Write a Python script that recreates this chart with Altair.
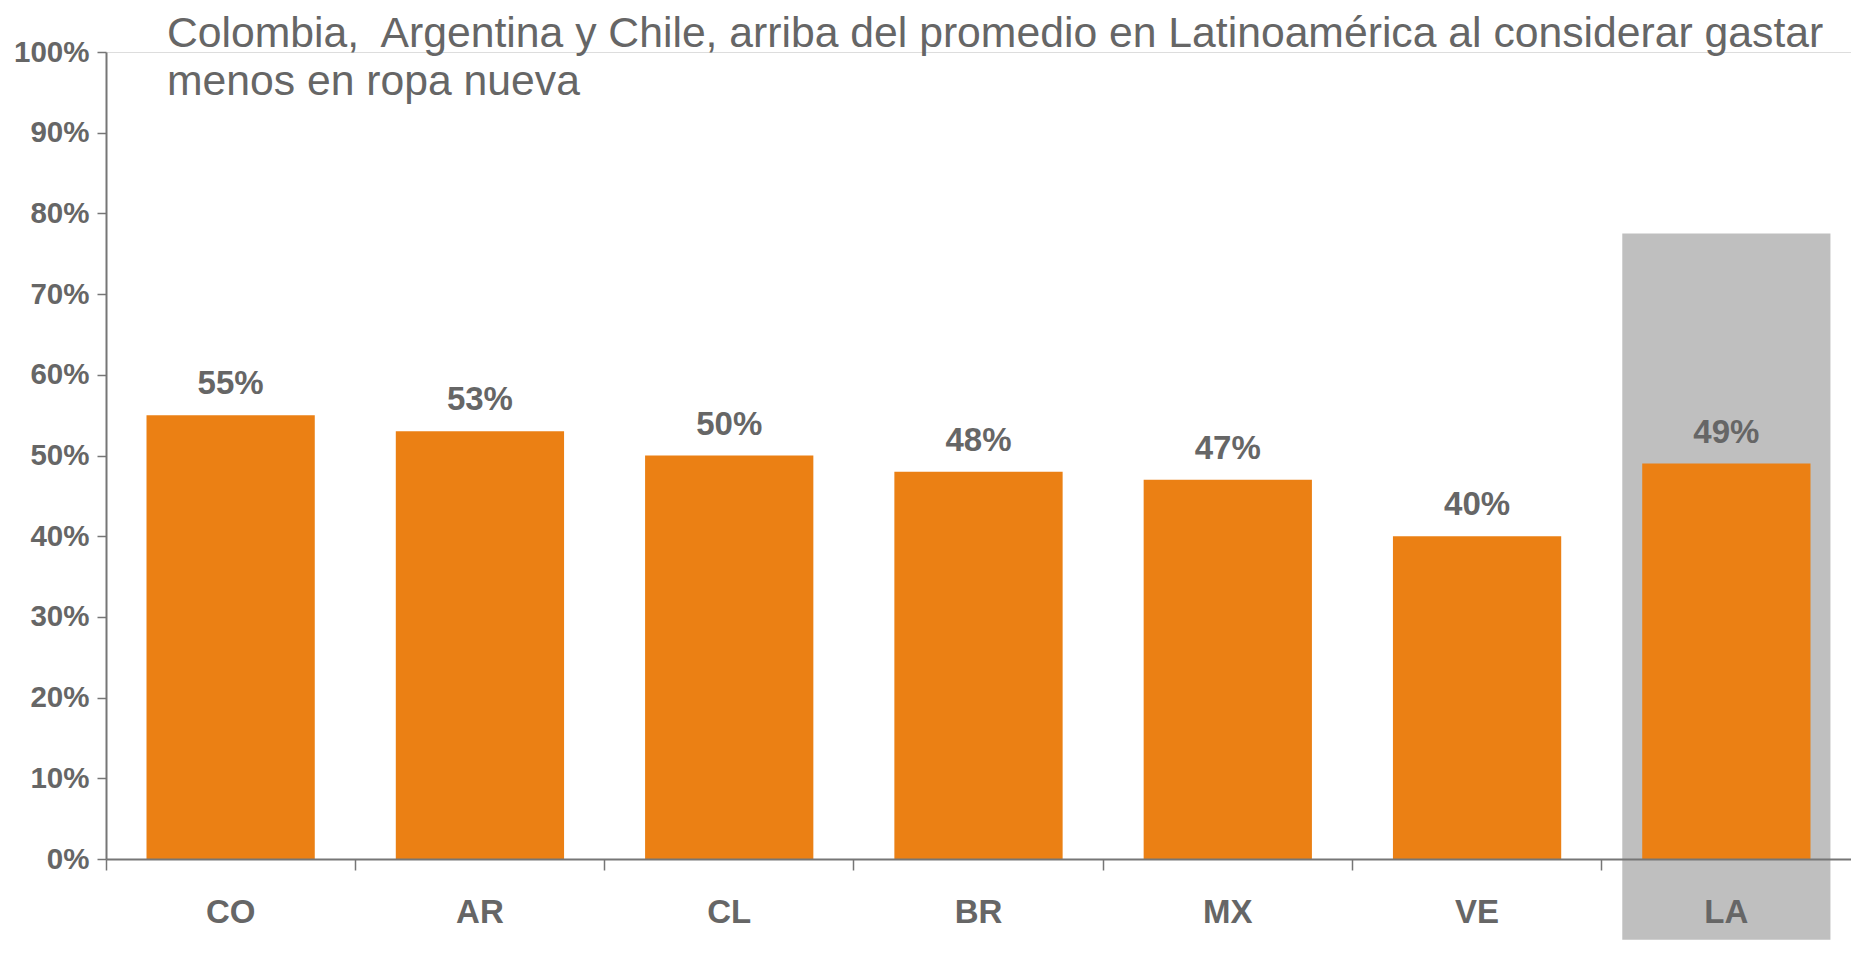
import altair as alt
import pandas as pd

# ---- data ----
countries = ["CO", "AR", "CL", "BR", "MX", "VE", "LA"]
shares = [0.55, 0.53, 0.50, 0.48, 0.47, 0.40, 0.49]
highlight_country = ["LA"]
highlight_top = [0.775]
highlight_bottom = [-0.1]
y_tick_values = [0.0, 0.1, 0.2, 0.3, 0.4, 0.5, 0.6, 0.7, 0.8, 0.9, 1.0]
title_lines = [
    "Colombia,\u00a0 Argentina y Chile, arriba del promedio en Latinoamérica al considerar gastar",
    "menos en ropa nueva",
]

df = pd.DataFrame({"pais": countries, "valor": shares})
hl = pd.DataFrame({"pais": highlight_country, "top": highlight_top, "bottom": highlight_bottom})
title_df = pd.DataFrame({"titulo": ["\n".join(title_lines)]})

FONT = "Liberation Sans"
GREY_TXT = "#666666"
AXIS_GREY = "#767676"
ORANGE = "#EB8014"
HL_GREY = "#BFBFBF"

W, H = 1745, 807
PAD = {"left": 98, "top": 44, "right": 0, "bottom": 81}

x_axis = alt.Axis(
    title=None,
    labelAngle=0,
    bandPosition=0,
    labelFont=FONT,
    labelFontSize=33,
    labelFontWeight="bold",
    labelColor=GREY_TXT,
    labelPadding=26,
    tickSize=11,
    tickColor=AXIS_GREY,
    tickWidth=1.5,
    domainColor=AXIS_GREY,
    domainWidth=2,
    grid=False,
    zindex=1,
)
y_axis = alt.Axis(
    title=None,
    values=y_tick_values,
    format=".0%",
    labelFont=FONT,
    labelFontSize=29.5,
    labelFontWeight="bold",
    labelColor=GREY_TXT,
    labelPadding=8,
    tickSize=9,
    tickColor=AXIS_GREY,
    tickWidth=1.5,
    domainColor=AXIS_GREY,
    domainWidth=2,
    grid=False,
    zindex=1,
)

x_scale = alt.Scale(type="band", domain=countries, paddingInner=0, paddingOuter=0)
y_scale = alt.Scale(domain=[0, 1], nice=False, zero=True)

x_enc = alt.X("pais:N", sort=countries, scale=x_scale, axis=x_axis)

highlight = alt.Chart(hl).mark_bar(
    color=HL_GREY, width=alt.RelativeBandSize(0.835)
).encode(
    x=x_enc,
    y=alt.Y("top:Q", scale=y_scale, axis=y_axis),
    y2=alt.Y2("bottom:Q"),
)

bars = alt.Chart(df).mark_bar(
    color=ORANGE, width=alt.RelativeBandSize(0.675)
).encode(
    x=x_enc,
    y=alt.Y("valor:Q", scale=y_scale, axis=y_axis),
)

labels = alt.Chart(df).mark_text(
    dy=-21,
    baseline="alphabetic",
    align="center",
    font=FONT,
    fontSize=33,
    fontWeight="bold",
    color=GREY_TXT,
).encode(
    x=x_enc,
    y=alt.Y("valor:Q", scale=y_scale, axis=y_axis),
    text=alt.Text("valor:Q", format=".0%"),
)

title = alt.Chart(title_df).mark_text(
    align="left",
    baseline="top",
    lineBreak="\n",
    lineHeight=48,
    font=FONT,
    fontSize=42.7,
    fontWeight="normal",
    color=GREY_TXT,
).encode(
    x=alt.value(61),
    y=alt.value(-39),
    text="titulo:N",
)

chart = (
    alt.layer(highlight, bars, labels, title)
    .properties(
        width=W,
        height=H,
        padding=PAD,
        autosize=alt.AutoSizeParams(type="none"),
    )
    .configure_axis(grid=False)
    .configure_view(stroke=None)
    .configure(background="white")
)

chart.save("out.html", embed_options={"renderer": "svg", "actions": False})
